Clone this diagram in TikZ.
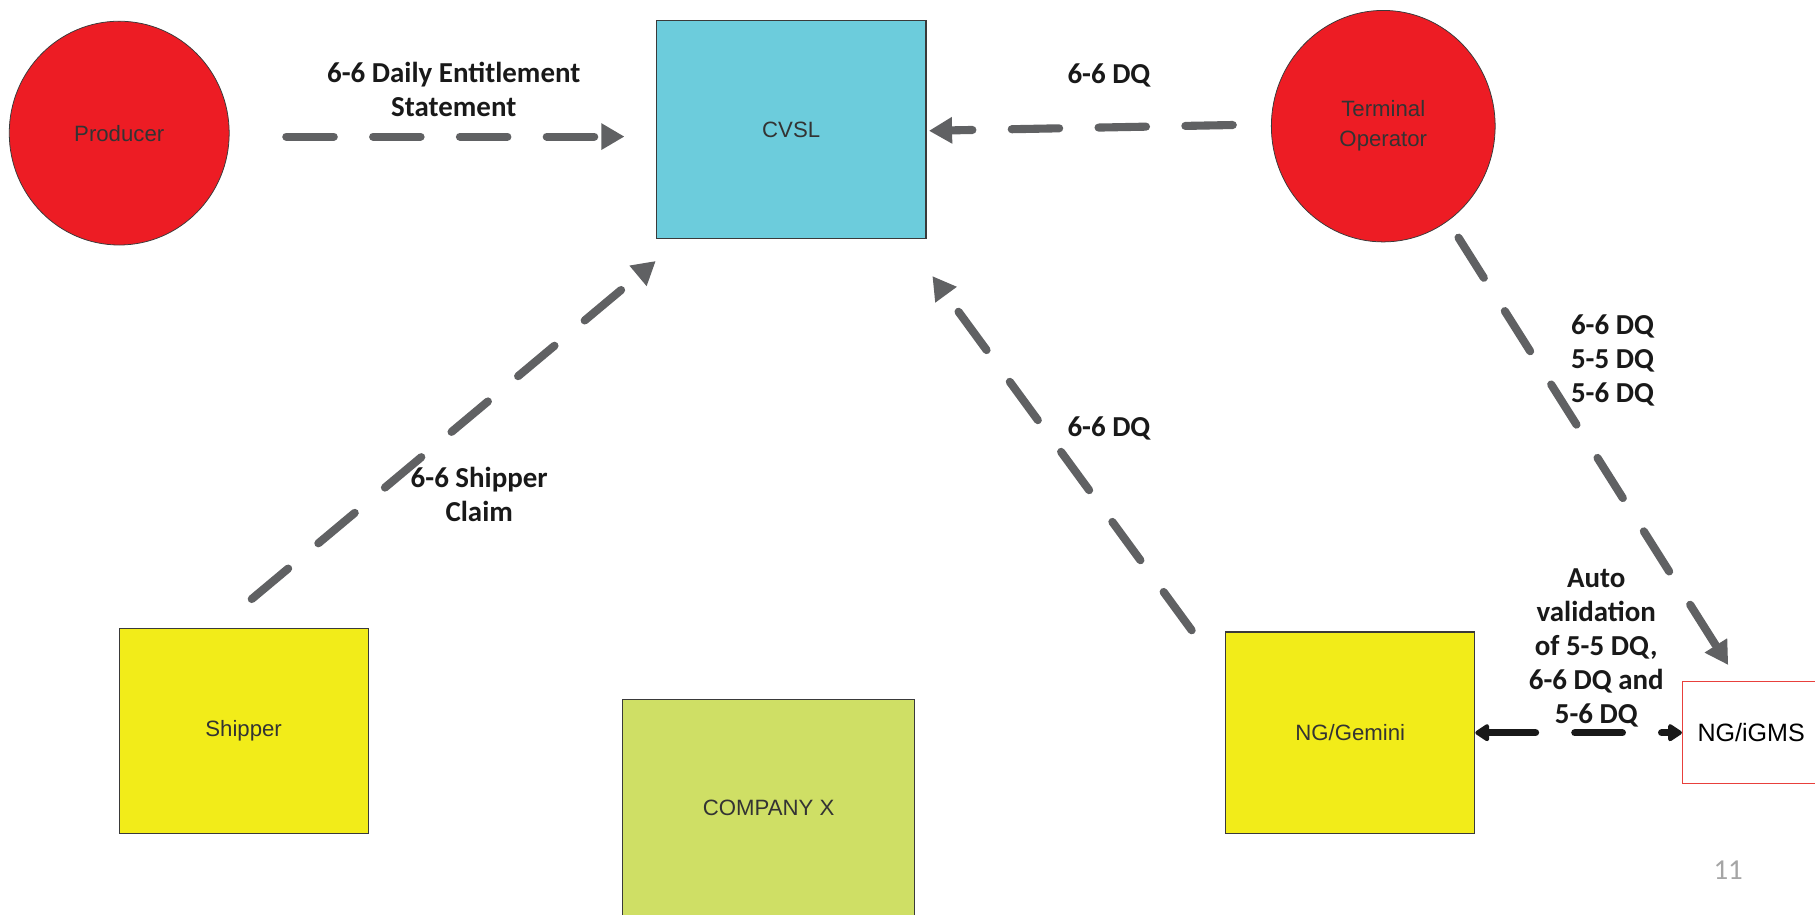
\documentclass[tikz,border=0pt]{standalone}
\usepackage{fontspec}
\setmainfont{Liberation Sans}
\newfontfamily\labelfont{Carlito}
\usetikzlibrary{shapes.geometric, arrows.meta}

\definecolor{partyred}{HTML}{ED1C24}
\definecolor{hubcyan}{HTML}{6CCCDC}
\definecolor{agentyellow}{HTML}{F2EC19}
\definecolor{companygreen}{HTML}{CFDF65}
\definecolor{boxline}{HTML}{3A3A3A}
\definecolor{flowgray}{HTML}{606163}
\definecolor{igmsred}{HTML}{E8403C}
\definecolor{nodetext}{HTML}{333333}
\definecolor{pagegray}{HTML}{A5A5A5}

\begin{document}
\begin{tikzpicture}[x=0.6pt, y=-0.6pt,
    party/.style={ellipse, draw=boxline, fill=partyred, text=nodetext, align=center, inner sep=0pt, font=\fontsize{11.5}{15.6}\selectfont},
    agent/.style={rectangle, draw=boxline, fill=agentyellow, text=nodetext, line width=0.6pt, font=\fontsize{11.5}{15.6}\selectfont},
    note/.style={text=black!90, align=center, font=\labelfont\bfseries\fontsize{15}{17.6}\selectfont},
    flow/.style={draw=flowgray, line width=4.2pt, line cap=round, dash pattern=on 24.6pt off 20.4pt, -{Triangle[length=12pt, width=13pt]}},
    check/.style={draw=black!90, line width=3.8pt, line cap=round, dash pattern=on 24.6pt off 20.4pt, {Triangle[round, length=8pt, width=10pt]}-{Triangle[round, length=8pt, width=10pt]}}
]
                            \useasboundingbox (0, 0) rectangle (1568, 790);

                            \node (prod)[party, minimum width=114pt, minimum height=116pt] at (103, 115) {Producer};
                            \node (term)[party, minimum width=116pt, minimum height=120pt] at (1195, 109) {Terminal\\Operator};
                            \node (cvsl)[agent, fill=hubcyan, minimum width=139.8pt, minimum height=112.8pt] at (683.5, 112) {CVSL};
                            \node (ship)[agent, minimum width=129pt, minimum height=106.2pt] at (210.5, 631.5) {Shipper};
                            \node (compx)[agent, fill=companygreen, minimum width=151.2pt, minimum height=112.8pt] at (664, 698) {COMPANY X};
                            \node (gem)[agent, minimum width=129pt, minimum height=104.4pt] at (1166.5, 633) {NG/Gemini};
                            \node (igms)[rectangle, draw=igmsred, line width=0.6pt, fill=white, anchor=west, text width=100pt, align=left, inner xsep=7.8pt, minimum height=52.8pt, font=\fontsize{13}{15.6}\selectfont] at (1453, 633) {NG/iGMS};

                            \node (lent)[note] at (392, 77) {6-6 Daily Entitlement\\Statement};
                            \node (lterm)[note] at (958, 65) {6-6 DQ};
                            \node (lship)[note] at (414, 427) {6-6 Shipper\\Claim};
                            \node (lgem)[note] at (958, 370) {6-6 DQ};
                            \node (ligms)[note, align=left] at (1393, 311) {6-6 DQ\\5-5 DQ\\5-6 DQ};
                            \node (lauto)[note] at (1379, 560) {Auto\\validation\\of 5-5 DQ,\\6-6 DQ and\\5-6 DQ};
                            \node (page)[text=pagegray, font=\labelfont\fontsize{15}{18}\selectfont] at (1493, 752) {11};

                            \draw [flow] ([shift={(49,3)}]prod.east) -- ([shift={(-27,6)}]cvsl.west);
                            \draw [flow] ([shift={(-33,-1)}]term.west) -- ([shift={(2,1)}]cvsl.east);
                            \draw [flow] ([shift={(7,-25)}]ship.north) -- ([shift={(0,19)}]cvsl.south west);
                            \draw [flow] ([shift={(-29,-1)}]gem.north west) -- ([shift={(5,32)}]cvsl.south east);
                            \draw [flow] ([shift={(65,-4)}]term.south) -- ([shift={(40,-14)}]igms.north west);
                            \draw [check] (gem.east) -- (igms.west);
                        \end{tikzpicture}
\end{document}
